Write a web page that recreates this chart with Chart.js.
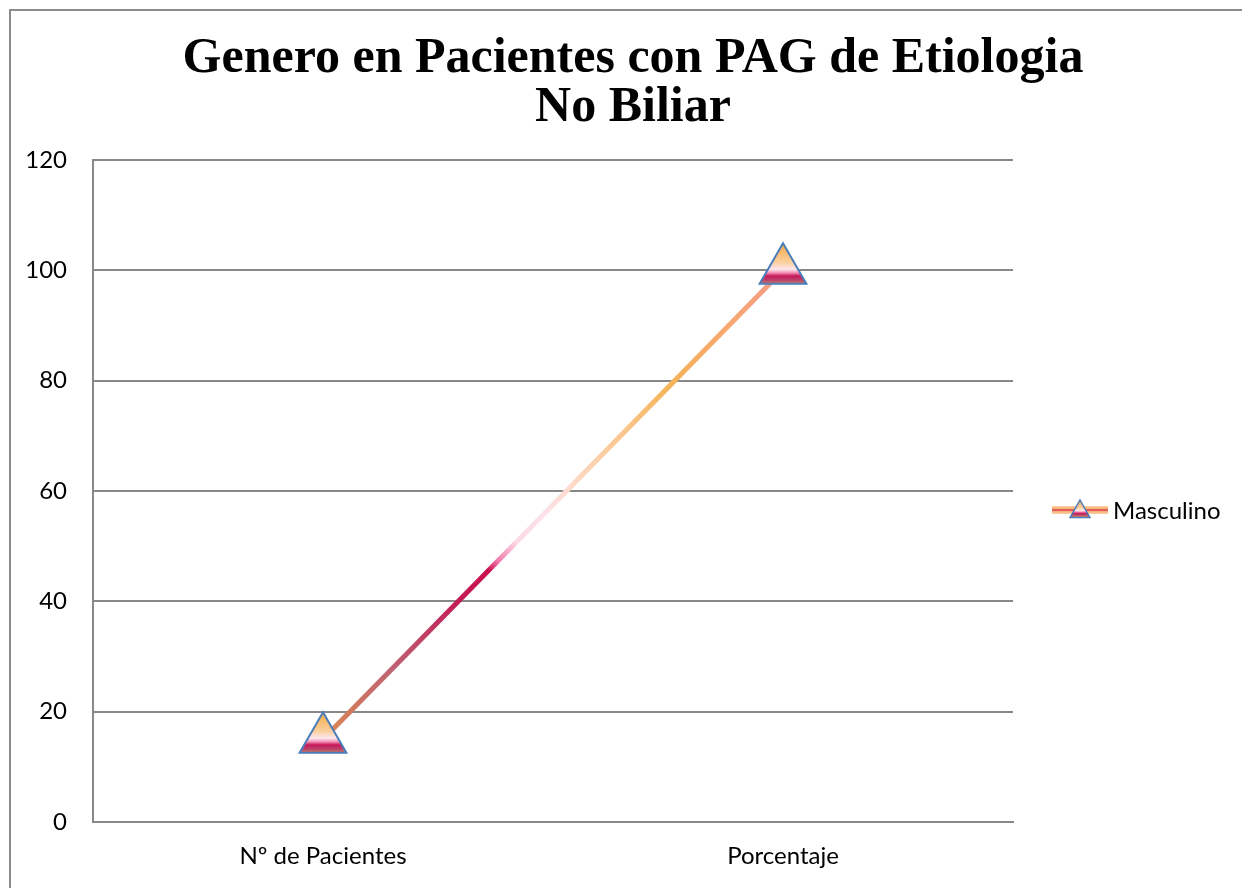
<!DOCTYPE html>
<html>
<head>
<meta charset="utf-8">
<script src="https://cdn.jsdelivr.net/npm/chart.js@4.4.1/dist/chart.umd.min.js"></script>
<style>
  body { margin: 0; background: #fff; }
  #wrap { position: relative; width: 1242px; height: 888px; overflow: hidden; }
  #frame { position: absolute; left: 9px; top: 9px; width: 1260px; height: 900px; border: 2px solid #8c8c8c; box-sizing: border-box; }
  canvas { position: absolute; left: 0; top: 0; }
</style>
</head>
<body>
<div id="wrap">
  <div id="frame"></div>
  <canvas id="chart" width="1242" height="888"></canvas>
</div>
<script>
// datos del gráfico
const categorias = ['Nº de Pacientes', 'Porcentaje'];
const masculino = [15, 100];
const serieNombre = 'Masculino';
const tituloLineas = ['Genero en Pacientes con PAG de Etiologia', 'No Biliar'];

const tickFont = { family: 'Lato', size: 24 };

// degradado de la línea (de abajo hacia arriba)
function lineGradient(chart) {
  const x = chart.scales.x, y = chart.scales.y;
  const x0 = x.getPixelForValue(0), y0 = y.getPixelForValue(masculino[0]);
  const x1 = x.getPixelForValue(1), y1 = y.getPixelForValue(masculino[1]);
  const g = chart.ctx.createLinearGradient(x0, y0, x1, y1);
  g.addColorStop(0.00, '#dc8a52');
  g.addColorStop(0.15, '#bf6272');
  g.addColorStop(0.30, '#c21a56');
  g.addColorStop(0.36, '#cc1050');
  g.addColorStop(0.38, '#f27aaa');
  g.addColorStop(0.42, '#fbd8e6');
  g.addColorStop(0.48, '#fde2ea');
  g.addColorStop(0.55, '#fdd8c4');
  g.addColorStop(0.75, '#f6b458');
  g.addColorStop(0.88, '#f7a870');
  g.addColorStop(1.00, '#f49a8a');
  return g;
}

// degradado del marcador triangular
function markerGradient(ctx2d, cy, r) {
  const g = ctx2d.createLinearGradient(0, cy - r, 0, cy + r * 0.55);
  g.addColorStop(0.00, '#f5a948');
  g.addColorStop(0.45, '#fbcf9c');
  g.addColorStop(0.62, '#fde6ee');
  g.addColorStop(0.70, '#f596b8');
  g.addColorStop(0.78, '#c8185a');
  g.addColorStop(0.88, '#b8446c');
  g.addColorStop(1.00, '#e08a50');
  return g;
}

const R = 27;

// leyenda propia a la derecha
const leyendaPlugin = {
  id: 'leyenda',
  afterDraw(chart) {
    const c = chart.ctx;
    const cy = 510, lx = 1052, lw = 56;
    c.save();
    const lg = c.createLinearGradient(0, cy - 4, 0, cy + 4);
    lg.addColorStop(0, '#fbd0a8');
    lg.addColorStop(0.35, '#f7b070');
    lg.addColorStop(0.5, '#d8204e');
    lg.addColorStop(0.65, '#f7b070');
    lg.addColorStop(1, '#fbd0a8');
    c.fillStyle = lg;
    c.fillRect(lx, cy - 4, lw, 8);
    const tr = 11;
    const tx = lx + lw / 2, ty = cy + 1;
    c.beginPath();
    c.moveTo(tx, ty - tr);
    c.lineTo(tx + tr * 0.9, ty + tr * 0.6);
    c.lineTo(tx - tr * 0.9, ty + tr * 0.6);
    c.closePath();
    c.fillStyle = markerGradient(c, ty, tr);
    c.fill();
    c.lineWidth = 1.5;
    c.strokeStyle = '#4a7ebb';
    c.stroke();
    c.fillStyle = '#000';
    c.font = '24px Lato';
    c.textBaseline = 'middle';
    c.fillText(serieNombre, 1113, cy + 1);
    c.restore();
  }
};

new Chart(document.getElementById('chart'), {
  type: 'line',
  data: {
    labels: categorias,
    datasets: [{
      label: serieNombre,
      data: masculino,
      borderWidth: 5,
      borderColor: (ctx) => ctx.chart.chartArea ? lineGradient(ctx.chart) : '#f6b458',
      pointStyle: 'triangle',
      pointRadius: R,
      pointHoverRadius: R,
      pointBorderWidth: 2,
      pointBorderColor: '#4a7ebb',
      pointBackgroundColor: (ctx) => {
        const chart = ctx.chart;
        if (!chart.chartArea || ctx.dataIndex === undefined) return '#f6b458';
        const py = chart.scales.y.getPixelForValue(masculino[ctx.dataIndex]);
        return markerGradient(chart.ctx, py, R);
      },
      tension: 0,
      fill: false
    }]
  },
  options: {
    responsive: false,
    animation: false,
    layout: { padding: { left: 24, right: 0, top: 0, bottom: 14 } },
    plugins: {
      legend: { display: false },
      tooltip: { enabled: false },
      title: {
        display: true,
        text: tituloLineas,
        color: '#000',
        font: { family: 'Liberation Serif', size: 50, weight: 'bold', lineHeight: 0.97 },
        padding: { top: 35, bottom: 28 }
      }
    },
    scales: {
      x: {
        offset: true,
        grid: { display: false, drawTicks: false },
        border: { display: true, color: '#888', width: 2 },
        ticks: { color: '#000', font: tickFont, padding: 20 },
        afterFit(scale) { scale.height = 66 - 14; }
      },
      y: {
        min: 0,
        max: 120,
        ticks: { stepSize: 20, color: '#000', font: tickFont, padding: 26 },
        grid: { color: '#888', lineWidth: 2, drawTicks: false },
        border: { display: true, color: '#888', width: 2 },
        afterFit(scale) { scale.width = 93 - 24; }
      },
      // eje vacío a la derecha para dejar sitio a la leyenda
      derecha: {
        position: 'right',
        display: true,
        ticks: { display: false },
        grid: { display: false, drawTicks: false },
        border: { display: false },
        afterFit(scale) { scale.width = 1242 - 1013; }
      }
    }
  },
  plugins: [leyendaPlugin]
});
</script>
</body>
</html>
